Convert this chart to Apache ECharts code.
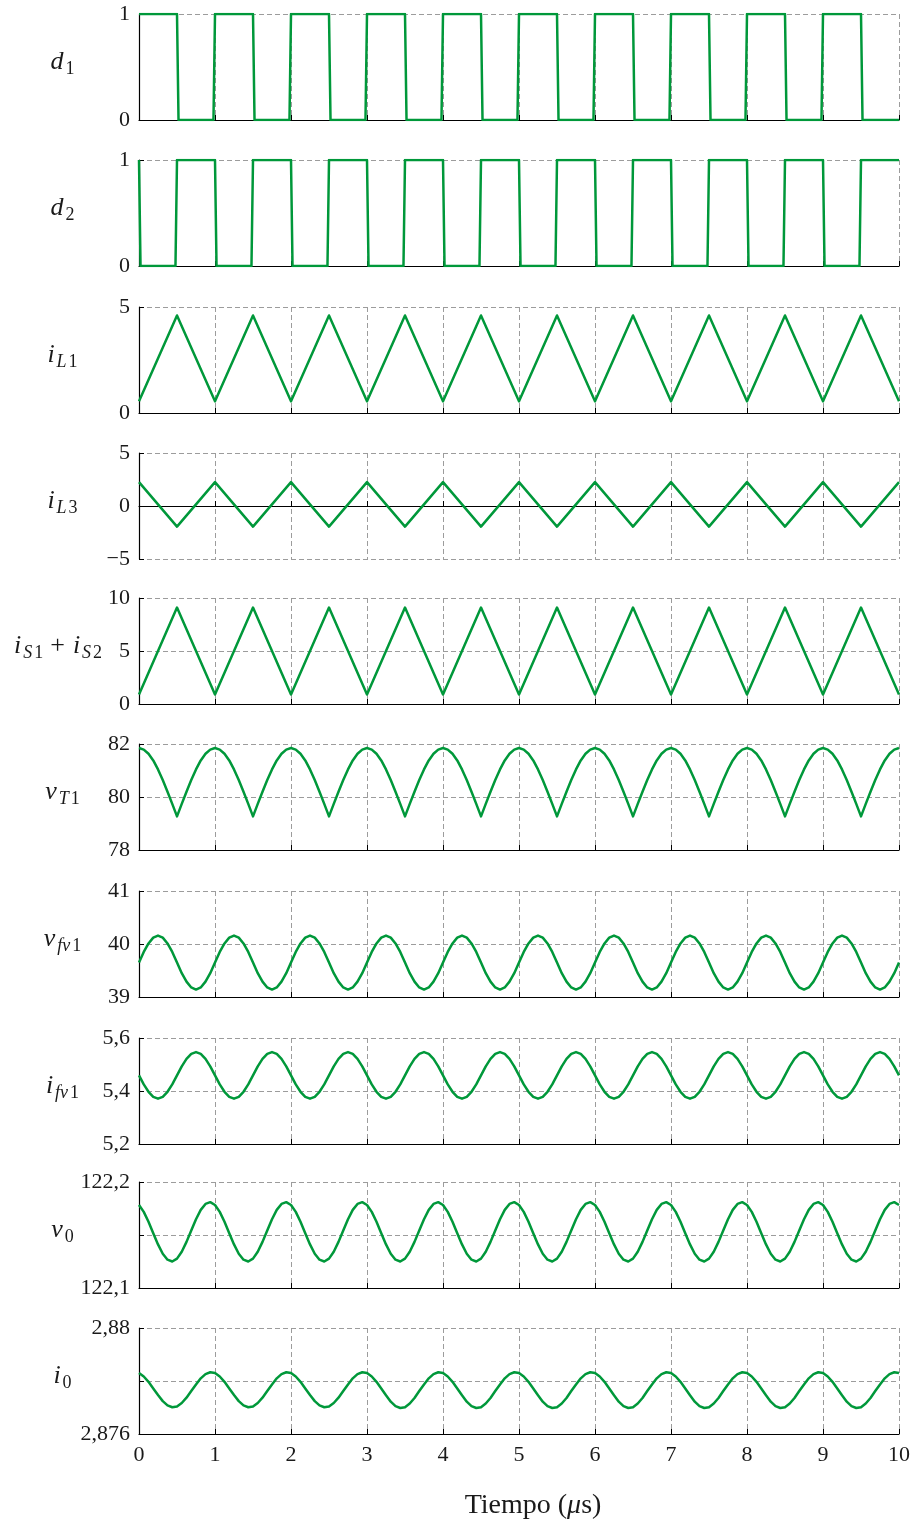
<!DOCTYPE html>
<html>
<head>
<meta charset="utf-8">
<script src="https://cdn.jsdelivr.net/npm/echarts@6/dist/echarts.min.js"></script>
<style>
  html, body { margin: 0; padding: 0; background: #ffffff; }
  #chart { width: 916px; height: 1523px; }
</style>
</head>
<body>
<div id="chart"></div>
<script>
// ---- Time axis (microseconds) ----
const timeTickLabels = ['0', '1', '2', '3', '4', '5', '6', '7', '8', '9', '10'];

// Sample instants for the continuous waveforms (every 0.0625 us)
const sampleTimes = [
  0, 0.0625, 0.125, 0.1875, 0.25, 0.3125, 0.375, 0.4375, 0.5, 0.5625, 0.625, 0.6875, 0.75, 0.8125, 0.875, 0.9375,
  1, 1.0625, 1.125, 1.1875, 1.25, 1.3125, 1.375, 1.4375, 1.5, 1.5625, 1.625, 1.6875, 1.75, 1.8125, 1.875, 1.9375,
  2, 2.0625, 2.125, 2.1875, 2.25, 2.3125, 2.375, 2.4375, 2.5, 2.5625, 2.625, 2.6875, 2.75, 2.8125, 2.875, 2.9375,
  3, 3.0625, 3.125, 3.1875, 3.25, 3.3125, 3.375, 3.4375, 3.5, 3.5625, 3.625, 3.6875, 3.75, 3.8125, 3.875, 3.9375,
  4, 4.0625, 4.125, 4.1875, 4.25, 4.3125, 4.375, 4.4375, 4.5, 4.5625, 4.625, 4.6875, 4.75, 4.8125, 4.875, 4.9375,
  5, 5.0625, 5.125, 5.1875, 5.25, 5.3125, 5.375, 5.4375, 5.5, 5.5625, 5.625, 5.6875, 5.75, 5.8125, 5.875, 5.9375,
  6, 6.0625, 6.125, 6.1875, 6.25, 6.3125, 6.375, 6.4375, 6.5, 6.5625, 6.625, 6.6875, 6.75, 6.8125, 6.875, 6.9375,
  7, 7.0625, 7.125, 7.1875, 7.25, 7.3125, 7.375, 7.4375, 7.5, 7.5625, 7.625, 7.6875, 7.75, 7.8125, 7.875, 7.9375,
  8, 8.0625, 8.125, 8.1875, 8.25, 8.3125, 8.375, 8.4375, 8.5, 8.5625, 8.625, 8.6875, 8.75, 8.8125, 8.875, 8.9375,
  9, 9.0625, 9.125, 9.1875, 9.25, 9.3125, 9.375, 9.4375, 9.5, 9.5625, 9.625, 9.6875, 9.75, 9.8125, 9.875, 9.9375,
  10
];

// ---- Gate signals d1, d2: [time, state] ----
const d1Points = [
  [0, 1], [0.5, 1], [0.52, 0], [0.98, 0],
  [1, 1], [1.5, 1], [1.52, 0], [1.98, 0],
  [2, 1], [2.5, 1], [2.52, 0], [2.98, 0],
  [3, 1], [3.5, 1], [3.52, 0], [3.98, 0],
  [4, 1], [4.5, 1], [4.52, 0], [4.98, 0],
  [5, 1], [5.5, 1], [5.52, 0], [5.98, 0],
  [6, 1], [6.5, 1], [6.52, 0], [6.98, 0],
  [7, 1], [7.5, 1], [7.52, 0], [7.98, 0],
  [8, 1], [8.5, 1], [8.52, 0], [8.98, 0],
  [9, 1], [9.5, 1], [9.52, 0], [10, 0]
];
const d2Points = [
  [0, 1], [0.02, 0], [0.48, 0], [0.5, 1],
  [1, 1], [1.02, 0], [1.48, 0], [1.5, 1],
  [2, 1], [2.02, 0], [2.48, 0], [2.5, 1],
  [3, 1], [3.02, 0], [3.48, 0], [3.5, 1],
  [4, 1], [4.02, 0], [4.48, 0], [4.5, 1],
  [5, 1], [5.02, 0], [5.48, 0], [5.5, 1],
  [6, 1], [6.02, 0], [6.48, 0], [6.5, 1],
  [7, 1], [7.02, 0], [7.48, 0], [7.5, 1],
  [8, 1], [8.02, 0], [8.48, 0], [8.5, 1],
  [9, 1], [9.02, 0], [9.48, 0], [9.5, 1],
  [10, 1]
];

// ---- Inductor / switch currents (A): triangle vertices [time, current] ----
const iL1Points = [
  [0, 0.55], [0.5, 4.6], [1, 0.55], [1.5, 4.6], [2, 0.55], [2.5, 4.6], [3, 0.55], [3.5, 4.6],
  [4, 0.55], [4.5, 4.6], [5, 0.55], [5.5, 4.6], [6, 0.55], [6.5, 4.6], [7, 0.55], [7.5, 4.6],
  [8, 0.55], [8.5, 4.6], [9, 0.55], [9.5, 4.6], [10, 0.55]
];
const iL3Points = [
  [0, 2.25], [0.5, -1.95], [1, 2.25], [1.5, -1.95], [2, 2.25], [2.5, -1.95], [3, 2.25], [3.5, -1.95],
  [4, 2.25], [4.5, -1.95], [5, 2.25], [5.5, -1.95], [6, 2.25], [6.5, -1.95], [7, 2.25], [7.5, -1.95],
  [8, 2.25], [8.5, -1.95], [9, 2.25], [9.5, -1.95], [10, 2.25]
];
const iSPoints = [
  [0, 0.9], [0.5, 9.1], [1, 0.9], [1.5, 9.1], [2, 0.9], [2.5, 9.1], [3, 0.9], [3.5, 9.1],
  [4, 0.9], [4.5, 9.1], [5, 0.9], [5.5, 9.1], [6, 0.9], [6.5, 9.1], [7, 0.9], [7.5, 9.1],
  [8, 0.9], [8.5, 9.1], [9, 0.9], [9.5, 9.1], [10, 0.9]
];

// ---- Transformer voltage vT1 (V), on sampleTimes ----
const vT1Values = [
  81.85, 81.79, 81.63, 81.38, 81.04, 80.64, 80.20, 79.74, 79.27, 79.74, 80.20, 80.64, 81.04, 81.38, 81.63, 81.79,
  81.85, 81.79, 81.63, 81.38, 81.04, 80.64, 80.20, 79.74, 79.27, 79.74, 80.20, 80.64, 81.04, 81.38, 81.63, 81.79,
  81.85, 81.79, 81.63, 81.38, 81.04, 80.64, 80.20, 79.74, 79.27, 79.74, 80.20, 80.64, 81.04, 81.38, 81.63, 81.79,
  81.85, 81.79, 81.63, 81.38, 81.04, 80.64, 80.20, 79.74, 79.27, 79.74, 80.20, 80.64, 81.04, 81.38, 81.63, 81.79,
  81.85, 81.79, 81.63, 81.38, 81.04, 80.64, 80.20, 79.74, 79.27, 79.74, 80.20, 80.64, 81.04, 81.38, 81.63, 81.79,
  81.85, 81.79, 81.63, 81.38, 81.04, 80.64, 80.20, 79.74, 79.27, 79.74, 80.20, 80.64, 81.04, 81.38, 81.63, 81.79,
  81.85, 81.79, 81.63, 81.38, 81.04, 80.64, 80.20, 79.74, 79.27, 79.74, 80.20, 80.64, 81.04, 81.38, 81.63, 81.79,
  81.85, 81.79, 81.63, 81.38, 81.04, 80.64, 80.20, 79.74, 79.27, 79.74, 80.20, 80.64, 81.04, 81.38, 81.63, 81.79,
  81.85, 81.79, 81.63, 81.38, 81.04, 80.64, 80.20, 79.74, 79.27, 79.74, 80.20, 80.64, 81.04, 81.38, 81.63, 81.79,
  81.85, 81.79, 81.63, 81.38, 81.04, 80.64, 80.20, 79.74, 79.27, 79.74, 80.20, 80.64, 81.04, 81.38, 81.63, 81.79,
  81.85
];

// ---- Filter capacitor voltage vfv1 (V) ----
const vfv1Values = [
  39.65, 39.85, 40.01, 40.12, 40.16, 40.12, 40.01, 39.85, 39.65, 39.45, 39.29, 39.18, 39.14, 39.18, 39.29, 39.45,
  39.65, 39.85, 40.01, 40.12, 40.16, 40.12, 40.01, 39.85, 39.65, 39.45, 39.29, 39.18, 39.14, 39.18, 39.29, 39.45,
  39.65, 39.85, 40.01, 40.12, 40.16, 40.12, 40.01, 39.85, 39.65, 39.45, 39.29, 39.18, 39.14, 39.18, 39.29, 39.45,
  39.65, 39.85, 40.01, 40.12, 40.16, 40.12, 40.01, 39.85, 39.65, 39.45, 39.29, 39.18, 39.14, 39.18, 39.29, 39.45,
  39.65, 39.85, 40.01, 40.12, 40.16, 40.12, 40.01, 39.85, 39.65, 39.45, 39.29, 39.18, 39.14, 39.18, 39.29, 39.45,
  39.65, 39.85, 40.01, 40.12, 40.16, 40.12, 40.01, 39.85, 39.65, 39.45, 39.29, 39.18, 39.14, 39.18, 39.29, 39.45,
  39.65, 39.85, 40.01, 40.12, 40.16, 40.12, 40.01, 39.85, 39.65, 39.45, 39.29, 39.18, 39.14, 39.18, 39.29, 39.45,
  39.65, 39.85, 40.01, 40.12, 40.16, 40.12, 40.01, 39.85, 39.65, 39.45, 39.29, 39.18, 39.14, 39.18, 39.29, 39.45,
  39.65, 39.85, 40.01, 40.12, 40.16, 40.12, 40.01, 39.85, 39.65, 39.45, 39.29, 39.18, 39.14, 39.18, 39.29, 39.45,
  39.65, 39.85, 40.01, 40.12, 40.16, 40.12, 40.01, 39.85, 39.65, 39.45, 39.29, 39.18, 39.14, 39.18, 39.29, 39.45,
  39.65
];

// ---- Filter inductor current ifv1 (A) ----
const ifv1Values = [
  5.459, 5.425, 5.397, 5.378, 5.371, 5.378, 5.397, 5.425, 5.459, 5.493, 5.521, 5.540, 5.547, 5.540, 5.521, 5.493,
  5.459, 5.425, 5.397, 5.378, 5.371, 5.378, 5.397, 5.425, 5.459, 5.493, 5.521, 5.540, 5.547, 5.540, 5.521, 5.493,
  5.459, 5.425, 5.397, 5.378, 5.371, 5.378, 5.397, 5.425, 5.459, 5.493, 5.521, 5.540, 5.547, 5.540, 5.521, 5.493,
  5.459, 5.425, 5.397, 5.378, 5.371, 5.378, 5.397, 5.425, 5.459, 5.493, 5.521, 5.540, 5.547, 5.540, 5.521, 5.493,
  5.459, 5.425, 5.397, 5.378, 5.371, 5.378, 5.397, 5.425, 5.459, 5.493, 5.521, 5.540, 5.547, 5.540, 5.521, 5.493,
  5.459, 5.425, 5.397, 5.378, 5.371, 5.378, 5.397, 5.425, 5.459, 5.493, 5.521, 5.540, 5.547, 5.540, 5.521, 5.493,
  5.459, 5.425, 5.397, 5.378, 5.371, 5.378, 5.397, 5.425, 5.459, 5.493, 5.521, 5.540, 5.547, 5.540, 5.521, 5.493,
  5.459, 5.425, 5.397, 5.378, 5.371, 5.378, 5.397, 5.425, 5.459, 5.493, 5.521, 5.540, 5.547, 5.540, 5.521, 5.493,
  5.459, 5.425, 5.397, 5.378, 5.371, 5.378, 5.397, 5.425, 5.459, 5.493, 5.521, 5.540, 5.547, 5.540, 5.521, 5.493,
  5.459, 5.425, 5.397, 5.378, 5.371, 5.378, 5.397, 5.425, 5.459, 5.493, 5.521, 5.540, 5.547, 5.540, 5.521, 5.493,
  5.459
];

// ---- Output voltage v0 (V) ----
const v0Values = [
  122.1783, 122.1718, 122.1625, 122.1517, 122.1411, 122.1323, 122.1267, 122.1250, 122.1277, 122.1342, 122.1435, 122.1543, 122.1649, 122.1737, 122.1793, 122.1810,
  122.1783, 122.1718, 122.1625, 122.1517, 122.1411, 122.1323, 122.1267, 122.1250, 122.1277, 122.1342, 122.1435, 122.1543, 122.1649, 122.1737, 122.1793, 122.1810,
  122.1783, 122.1718, 122.1625, 122.1517, 122.1411, 122.1323, 122.1267, 122.1250, 122.1277, 122.1342, 122.1435, 122.1543, 122.1649, 122.1737, 122.1793, 122.1810,
  122.1783, 122.1718, 122.1625, 122.1517, 122.1411, 122.1323, 122.1267, 122.1250, 122.1277, 122.1342, 122.1435, 122.1543, 122.1649, 122.1737, 122.1793, 122.1810,
  122.1783, 122.1718, 122.1625, 122.1517, 122.1411, 122.1323, 122.1267, 122.1250, 122.1277, 122.1342, 122.1435, 122.1543, 122.1649, 122.1737, 122.1793, 122.1810,
  122.1783, 122.1718, 122.1625, 122.1517, 122.1411, 122.1323, 122.1267, 122.1250, 122.1277, 122.1342, 122.1435, 122.1543, 122.1649, 122.1737, 122.1793, 122.1810,
  122.1783, 122.1718, 122.1625, 122.1517, 122.1411, 122.1323, 122.1267, 122.1250, 122.1277, 122.1342, 122.1435, 122.1543, 122.1649, 122.1737, 122.1793, 122.1810,
  122.1783, 122.1718, 122.1625, 122.1517, 122.1411, 122.1323, 122.1267, 122.1250, 122.1277, 122.1342, 122.1435, 122.1543, 122.1649, 122.1737, 122.1793, 122.1810,
  122.1783, 122.1718, 122.1625, 122.1517, 122.1411, 122.1323, 122.1267, 122.1250, 122.1277, 122.1342, 122.1435, 122.1543, 122.1649, 122.1737, 122.1793, 122.1810,
  122.1783, 122.1718, 122.1625, 122.1517, 122.1411, 122.1323, 122.1267, 122.1250, 122.1277, 122.1342, 122.1435, 122.1543, 122.1649, 122.1737, 122.1793, 122.1810,
  122.1783
];

// ---- Output current i0 (A) ----
const i0Values = [
  2.87830, 2.87817, 2.87797, 2.87772, 2.87747, 2.87724, 2.87708, 2.87701, 2.87704, 2.87717, 2.87737, 2.87762, 2.87787, 2.87810, 2.87826, 2.87833,
  2.87830, 2.87817, 2.87797, 2.87772, 2.87747, 2.87724, 2.87708, 2.87701, 2.87704, 2.87717, 2.87737, 2.87762, 2.87787, 2.87810, 2.87826, 2.87833,
  2.87830, 2.87817, 2.87797, 2.87772, 2.87747, 2.87724, 2.87708, 2.87701, 2.87704, 2.87717, 2.87737, 2.87762, 2.87787, 2.87810, 2.87826, 2.87833,
  2.87830, 2.87817, 2.87797, 2.87772, 2.87746, 2.87722, 2.87705, 2.87698, 2.87701, 2.87715, 2.87736, 2.87762, 2.87787, 2.87810, 2.87826, 2.87833,
  2.87830, 2.87817, 2.87797, 2.87772, 2.87746, 2.87722, 2.87705, 2.87698, 2.87701, 2.87715, 2.87736, 2.87762, 2.87787, 2.87810, 2.87826, 2.87833,
  2.87830, 2.87817, 2.87797, 2.87772, 2.87746, 2.87722, 2.87705, 2.87698, 2.87701, 2.87715, 2.87736, 2.87762, 2.87787, 2.87810, 2.87826, 2.87833,
  2.87830, 2.87817, 2.87797, 2.87772, 2.87746, 2.87722, 2.87705, 2.87698, 2.87701, 2.87715, 2.87736, 2.87762, 2.87787, 2.87810, 2.87826, 2.87833,
  2.87830, 2.87817, 2.87797, 2.87772, 2.87746, 2.87722, 2.87705, 2.87698, 2.87701, 2.87715, 2.87736, 2.87762, 2.87787, 2.87810, 2.87826, 2.87833,
  2.87830, 2.87817, 2.87797, 2.87772, 2.87746, 2.87722, 2.87705, 2.87698, 2.87701, 2.87715, 2.87736, 2.87762, 2.87787, 2.87810, 2.87826, 2.87833,
  2.87830, 2.87817, 2.87797, 2.87772, 2.87746, 2.87722, 2.87705, 2.87698, 2.87701, 2.87715, 2.87736, 2.87762, 2.87787, 2.87810, 2.87826, 2.87833,
  2.87830
];

// ---- Y tick labels per panel (decimal comma) ----
const d1TickLabels = ['0', '1'];
const d2TickLabels = ['0', '1'];
const iL1TickLabels = ['0', '5'];
const iL3TickLabels = ['\u22125', '0', '5'];
const iSTickLabels = ['0', '5', '10'];
const vT1TickLabels = ['78', '80', '82'];
const vfv1TickLabels = ['39', '40', '41'];
const ifv1TickLabels = ['5,2', '5,4', '5,6'];
const v0TickLabels = ['122,1', '', '122,2'];
const i0TickLabels = ['2,876', '', '2,88'];

// ---- Styling / layout ----
const SERIF = '"Liberation Serif", "DejaVu Serif", serif';
const TRACE = '#00983a';
const INK = '#1a1a1a';
const GRID_GRAY = '#9c9c9c';
const PLOT_LEFT = 139;
const PLOT_WIDTH = 760;
const PLOT_HEIGHT = 106;
const PANEL_TOPS = [14, 160, 307, 453, 598, 744, 891, 1038, 1182, 1328];

const pair = (times, values) => times.map((t, i) => [t, values[i]]);

const panels = [
  { label: '{m|d}{s|1}', min: 0, max: 1, interval: 1, ticks: d1TickLabels, data: d1Points },
  { label: '{m|d}{s|2}', min: 0, max: 1, interval: 1, ticks: d2TickLabels, data: d2Points },
  { label: '{m|i}{si|L}{s|1}', min: 0, max: 5, interval: 5, ticks: iL1TickLabels, data: iL1Points },
  { label: '{m|i}{si|L}{s|3}', min: -5, max: 5, interval: 5, ticks: iL3TickLabels, data: iL3Points, zeroLine: true },
  { label: '{m|i}{si|S}{s|1}{p|+}{m|i}{si|S}{s|2}', min: 0, max: 10, interval: 5, ticks: iSTickLabels, data: iSPoints },
  { label: '{m|v}{si|T}{s|1}', min: 78, max: 82, interval: 2, ticks: vT1TickLabels, data: pair(sampleTimes, vT1Values) },
  { label: '{m|v}{si|fv}{s|1}', min: 39, max: 41, interval: 1, ticks: vfv1TickLabels, data: pair(sampleTimes, vfv1Values) },
  { label: '{m|i}{si|fv}{s|1}', min: 5.2, max: 5.6, interval: 0.2, ticks: ifv1TickLabels, data: pair(sampleTimes, ifv1Values) },
  { label: '{m|v}{s|0}', min: 122.1, max: 122.2, interval: 0.05, ticks: v0TickLabels, data: pair(sampleTimes, v0Values) },
  { label: '{m|i}{s|0}', min: 2.876, max: 2.88, interval: 0.002, ticks: i0TickLabels, data: pair(sampleTimes, i0Values) }
];

const nameRich = {
  m: { fontFamily: SERIF, fontStyle: 'italic', fontSize: 26, lineHeight: 24, verticalAlign: 'top', color: INK, padding: [0, 1, 0, 1] },
  s: { fontFamily: SERIF, fontSize: 18, lineHeight: 17, padding: [11, 0, 0, 1], verticalAlign: 'top', color: INK },
  si: { fontFamily: SERIF, fontStyle: 'italic', fontSize: 18, lineHeight: 17, padding: [11, 1, 0, 1], verticalAlign: 'top', color: INK },
  p: { fontFamily: SERIF, fontSize: 26, lineHeight: 24, padding: [0, 7, 0, 7], verticalAlign: 'top', color: INK }
};

const dashed = { type: [5, 3], color: GRID_GRAY, width: 1 };
const blackLine = { color: '#000000', width: 1.2 };

const grid = [], xAxis = [], yAxis = [], series = [];
panels.forEach((p, i) => {
  const last = i === panels.length - 1;
  grid.push({ left: PLOT_LEFT, top: PANEL_TOPS[i], width: PLOT_WIDTH, height: PLOT_HEIGHT, containLabel: false });
  xAxis.push({
    gridIndex: i, type: 'value', min: 0, max: 10, interval: 1,
    axisLine: { show: true, onZero: true, lineStyle: blackLine },
    axisTick: { show: true, inside: true, length: 5, lineStyle: { color: '#000000', width: 1 } },
    axisLabel: {
      show: last, margin: 10, fontFamily: SERIF, fontSize: 22, color: INK,
      formatter: (v, idx) => timeTickLabels[idx]
    },
    splitLine: { show: true, showMinLine: false, lineStyle: dashed },
    name: last ? '{r|Tiempo (}{g|\u03bc}{r|s)}' : '',
    nameLocation: 'middle', nameGap: 58,
    nameTextStyle: {
      padding: [0, 0, 0, 28],
      rich: {
        r: { fontFamily: SERIF, fontSize: 28, color: INK },
        g: { fontFamily: SERIF, fontStyle: 'italic', fontSize: 28, color: INK }
      }
    }
  });
  yAxis.push({
    gridIndex: i, type: 'value', min: p.min, max: p.max, interval: p.interval,
    axisLine: { show: true, onZero: false, lineStyle: blackLine },
    axisTick: { show: true, inside: true, length: 5, lineStyle: { color: '#000000', width: 1 } },
    axisLabel: {
      show: true, margin: 9, fontFamily: SERIF, fontSize: 22, color: INK,
      formatter: (v, idx) => p.ticks[idx]
    },
    splitLine: { show: true, showMinLine: !!p.zeroLine, lineStyle: dashed },
    name: p.label, nameLocation: 'middle', nameRotate: 0, nameGap: 77,
    nameTextStyle: { align: 'center', verticalAlign: 'middle', padding: [0, 0, 11, 0], rich: nameRich }
  });
  series.push({
    type: 'line', xAxisIndex: i, yAxisIndex: i, data: p.data,
    smooth: false, showSymbol: false, symbol: 'none', animation: false,
    lineStyle: { color: TRACE, width: 2.5, join: 'round' }
  });
});

const chart = echarts.init(document.getElementById('chart'), null, { renderer: 'canvas' });
chart.setOption({ animation: false, backgroundColor: '#ffffff', grid, xAxis, yAxis, series });
</script>
</body>
</html>
